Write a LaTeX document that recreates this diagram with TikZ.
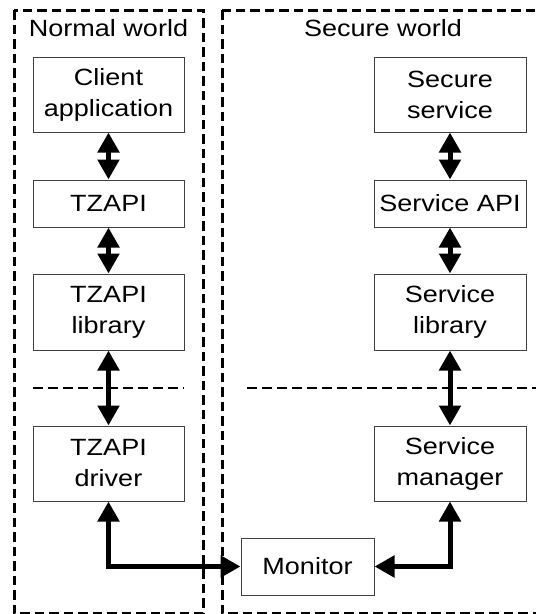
\documentclass[tikz,border=0pt]{standalone}
\usepackage{fontspec}
\setmainfont{Liberation Sans}[FakeStretch=1.15]
\usetikzlibrary{arrows.meta}
\begin{document}
\begin{tikzpicture}[x=1pt,y=-1pt,
  box/.style={draw=black!75,line width=1pt,rectangle,inner sep=0pt,align=center,
    font=\fontsize{23.5pt}{31pt}\selectfont,minimum width=151pt},
  world/.style={draw=black,line width=3pt,dash pattern=on 9.5pt off 5pt},
  layer/.style={draw=black,line width=2.3pt,dash pattern=on 10pt off 5pt},
  lbl/.style={inner sep=0pt,font=\fontsize{23.5pt}{31pt}\selectfont},
  arr/.style={line width=5pt,{Triangle[width=21pt,length=20pt]}-{Triangle[width=21pt,length=20pt]}}
]
\useasboundingbox (0,0) rectangle (536,614);
\clip (0,0) rectangle (536,614);
\fill[white] (0,0) rectangle (536,614);
% worlds
\draw[world] (14,10) rectangle (203,613);
\draw[world] (222,10) rectangle (544,613);
\node[lbl] (nw) at (108.5,28) {Normal world};
\node[lbl] (sw) at (383,28) {Secure world};
% layer separators
\coordinate (l1) at (33,388);
\coordinate (l2) at (184,388);
\coordinate (l3) at (247,388);
\coordinate (l4) at (536,388);
\draw[layer] (l1) -- (l2);
\draw[layer] (l3) -- (l4);
% normal world boxes
\node[box,minimum height=75pt] (client) at (108.5,94.5) {Client\\application};
\node[box,minimum height=47pt] (tzapi) at (108.5,203.5) {TZAPI};
\node[box,minimum height=76pt] (tzlib) at (108.5,312) {TZAPI\\library};
\node[box,minimum height=75pt] (tzdrv) at (108.5,463.5) {TZAPI\\driver};
% secure world boxes
\node[box,minimum width=152pt,minimum height=75pt] (ssvc) at (450,94.5) {Secure\\service};
\node[box,minimum width=152pt,minimum height=47pt] (sapi) at (450,203.5) {Service API};
\node[box,minimum width=152pt,minimum height=76pt] (slib) at (450,312) {Service\\library};
\node[box,minimum width=152pt,minimum height=75pt] (smgr) at (450,463.5) {Service\\manager};
\node[box,minimum width=133pt,minimum height=57pt] (mon) at (307.5,566.5) {Monitor};
% connectors
\draw[arr] (client) -- (tzapi);
\draw[arr] (tzapi) -- (tzlib);
\draw[arr] (tzlib) -- (tzdrv);
\draw[arr] (ssvc) -- (sapi);
\draw[arr] (sapi) -- (slib);
\draw[arr] (slib) -- (smgr);
\draw[arr] (tzdrv.south) |- (mon.west);
\draw[arr] (smgr.south) |- (mon.east);
\end{tikzpicture}
\end{document}
